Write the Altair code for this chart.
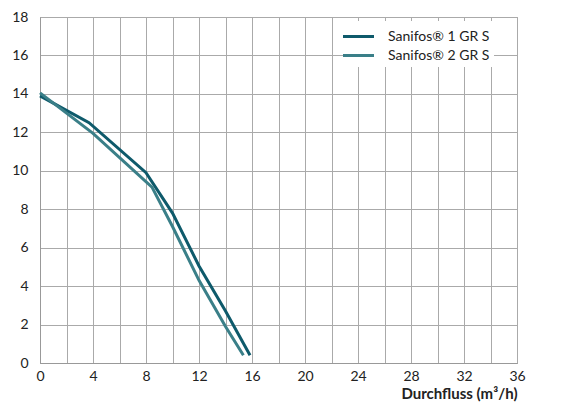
import altair as alt
import pandas as pd

series1_name = "Sanifos® 1 GR S"
series2_name = "Sanifos® 2 GR S"

s1_flow = [0.0, 3.7, 8.0, 10.0, 12.0, 14.0, 15.85]
s1_head = [13.9, 12.5, 9.9, 7.8, 5.05, 2.7, 0.4]

s2_flow = [0.0, 4.0, 8.45, 10.0, 12.0, 14.0, 15.35]
s2_head = [14.05, 11.95, 9.15, 7.1, 4.3, 1.9, 0.4]

x_ticks = list(range(0, 37, 2))
y_ticks = list(range(0, 19, 2))

rows = []
for i, (f, h) in enumerate(zip(s1_flow, s1_head)):
    rows.append({"series": series1_name, "flow": f, "head": h, "order": i})
for i, (f, h) in enumerate(zip(s2_flow, s2_head)):
    rows.append({"series": series2_name, "flow": f, "head": h, "order": i})
df = pd.DataFrame(rows)

FONT = "Lato"

chart = alt.Chart(df).mark_line(strokeWidth=3).encode(
    x=alt.X("flow:Q",
            scale=alt.Scale(domain=[0, 36], nice=False, zero=True),
            axis=alt.Axis(values=x_ticks,
                          labelExpr="datum.value % 4 == 0 ? datum.label : ''",
                          title="Durchfluss (m³/h)",
                          titleFont=FONT, titleFontSize=15, titleFontWeight="bold",
                          titleColor="#222", titleAnchor="end", titleAlign="right",
                          titleX=477, titleY=23, titleBaseline="top",
                          labelFont=FONT, labelFontSize=14, labelColor="#222",
                          labelPadding=6, ticks=False, grid=True,
                          gridColor="#aaaaaa", gridWidth=1,
                          domainColor="#999999", labelFlush=False)),
    y=alt.Y("head:Q",
            scale=alt.Scale(domain=[0, 18], nice=False),
            axis=alt.Axis(values=y_ticks, title=None,
                          labelFont=FONT, labelFontSize=14, labelColor="#222",
                          labelPadding=12, ticks=False, grid=True,
                          gridColor="#aaaaaa", gridWidth=1,
                          domainColor="#999999")),
    color=alt.Color("series:N",
                    scale=alt.Scale(domain=[series1_name, series2_name],
                                    range=["#0e5a6b", "#3a7f88"]),
                    legend=alt.Legend(title=None, orient="none",
                                      legendX=303, legendY=4,
                                      fillColor="white", padding=4,
                                      symbolType="M-1.55,0H1.55", symbolSize=400,
                                      symbolStrokeWidth=3,
                                      labelFont=FONT, labelFontSize=14,
                                      labelColor="#222", labelOffset=18,
                                      rowPadding=0)),
    order="order:Q",
).properties(
    width=477, height=346,
    autosize=alt.AutoSizeParams(type="none"),
    padding={"left": 32, "top": 9, "right": 45, "bottom": 40},
).configure_view(stroke="#999999", strokeWidth=1)

chart.save("out.html", embed_options={"renderer": "svg", "actions": False})
